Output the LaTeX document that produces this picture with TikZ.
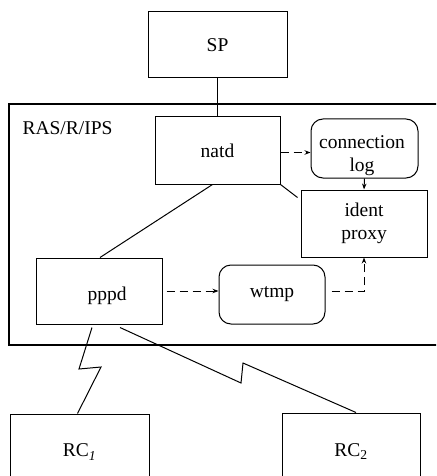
\documentclass[tikz,border=0pt]{standalone}
\usepackage{fontspec}
\setmainfont{Liberation Serif}
\usetikzlibrary{calc,arrows.meta}
\begin{document}
\begin{tikzpicture}[x=1pt,y=-1pt,
  every node/.style={font=\fontsize{19.5}{23}\selectfont},
  box/.style={draw,line width=1pt,inner sep=0pt,align=center},
  rbox/.style={box,rounded corners=12pt},
  link/.style={line width=1pt},
  dlink/.style={line width=1pt,dash pattern=on 8pt off 5pt,-{Stealth[length=6pt,width=4.5pt]}},
  slink/.style={line width=1pt,-{Stealth[length=6pt,width=4.5pt]}}]
\clip (0,0) rectangle (436,476);
\useasboundingbox (0,0) rectangle (436,476);
\fill[white] (0,0) rectangle (436,476);
% RAS frame
\coordinate (rtr) at (440,104);
\coordinate (rtl) at (9,104);
\coordinate (rbl) at (9,345);
\coordinate (rbr) at (440,345);
\draw[line width=1.2pt] (rtr) -- (rtl) -- (rbl) -- (rbr);
\node[anchor=west] (raslabel) at (19,128) {RAS/R/IPS};
% nodes
\node[box,minimum width=139pt,minimum height=66pt] (sp) at (217.5,45) {SP};
\node[box,minimum width=125pt,minimum height=67pt] (natd) at (217.5,150.5) {natd};
\node[rbox,minimum width=107pt,minimum height=59pt] (clog) at (364.5,148.5) {};
\node (clogtext) at (362,156) [align=center,font=\fontsize{19.5}{23}\selectfont] {connection\\log};
\node[box,minimum width=126pt,minimum height=67pt] (ident) at (364,223.5) {ident\\proxy};
\node[box,minimum width=126pt,minimum height=66pt] (pppd) at (99,291) {};
\node (pppdtext) at (107,296) {pppd};
\node[rbox,minimum width=106pt,minimum height=59pt] (wtmp) at (272,294.5) {wtmp};
\node[box,minimum width=139pt,minimum height=76pt] (rc1) at (79.5,452) {RC\textsubscript{\itshape 1}};
\node[box,minimum width=138pt,minimum height=77pt] (rc2) at (351,451.5) {RC\textsubscript{2}};
% connectors
\draw[link] (sp.south) -- (natd.north);
\draw[dlink] ($(natd.east)+(0,2)$) -- ($(natd.east -| clog.west)+(0,2)$);
\draw[slink] (clog.south) -- (ident.north);
\draw[link] (natd.south east) -- ($(ident.north west)+(-3,8)$);
\draw[link] ($(natd.south)+(-5,0)$) -- ($(pppd.north)+(1,0)$);
\draw[dlink] ($(pppd.east)+(4,0)$) -- (pppd.east -| wtmp.west);
\draw[dlink] ($(wtmp.east)+(6,-3)$) -| (ident.south);
\draw[link] ($(pppd.south)+(-7,3)$) -- (79,369) -- (101,367) -- ($(rc1.north)+(-2,0)$);
\draw[link] ($(pppd.south)+(21,3)$) -- (241,383) -- (243,363) -- ($(rc2.north)+(5,0)$);
\end{tikzpicture}
\end{document}
